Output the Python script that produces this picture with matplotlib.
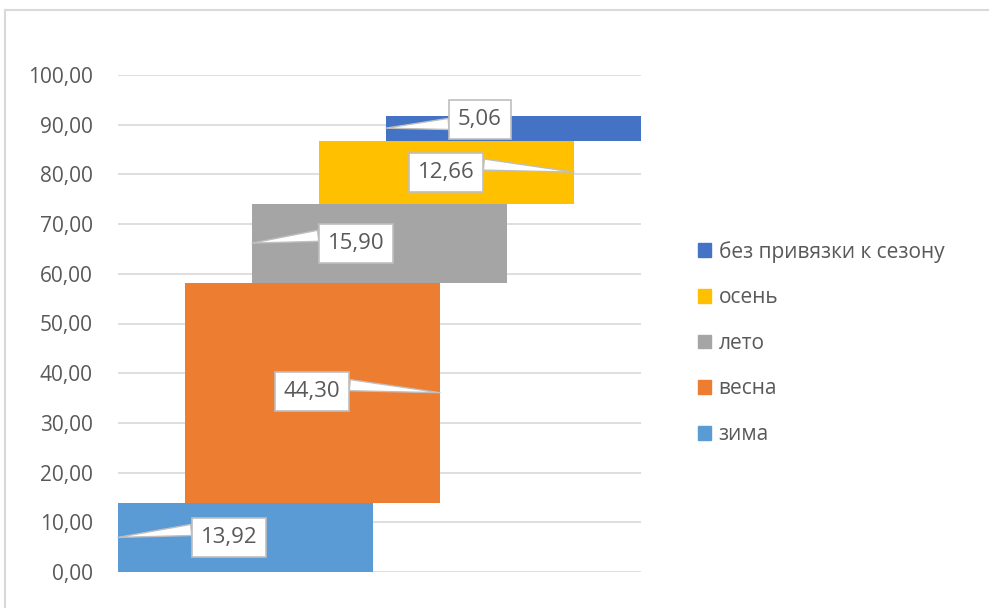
import matplotlib
matplotlib.use("Agg")
import matplotlib.pyplot as plt
import numpy as np
from matplotlib.patches import Rectangle
from matplotlib.ticker import FuncFormatter, MultipleLocator

plt.rcParams["font.family"] = ["Open Sans", "DejaVu Sans"]

seasons = ["зима", "весна", "лето", "осень", "без привязки к сезону"]
values = [13.92, 44.30, 15.90, 12.66, 5.06]
colors = ["#5B9BD5", "#ED7D31", "#A5A5A5", "#FFC000", "#4472C4"]

TEXT = "#595959"
GRID = "#D9D9D9"

fig = plt.figure(figsize=(9.89, 6.08), dpi=100)
ax = fig.add_axes([118 / 989, 1 - 572 / 608, (641 - 118) / 989, (572 - 75) / 608])

step = 67 / 255
x = np.arange(len(values)) * step
bottoms = np.concatenate([[0], np.cumsum(values)[:-1]])
bars = ax.bar(x, values, bottom=bottoms, width=1.0, color=colors, linewidth=0)

ax.set_xlim(-0.5, x[-1] + 0.5)
ax.set_ylim(0, 100)
ax.yaxis.set_major_locator(MultipleLocator(10))
ax.yaxis.set_major_formatter(FuncFormatter(lambda v, _: f"{v:.2f}".replace(".", ",")))
ax.grid(axis="y", color=GRID, lw=1.2)
ax.set_axisbelow(True)
ax.set_xticks([])
for s in ax.spines.values():
    s.set_visible(False)
ax.tick_params(axis="y", length=0, pad=18, labelsize=15, labelcolor=TEXT)

# callout labels: (side of bar, pixel offset of box, anchor on box)
label_side = ["left", "right", "left", "right", "left"]
label_off = [(111, 0), (-128, 1), (104, 0), (-128, 0), (94, 9)]
label_rel = [(0, 0.9), (1, 0.85), (0, 0.9), (1, 0.9), (0, 0.3)]
for b, v, side, off, rel in zip(bars, values, label_side, label_off, label_rel):
    bx = b.get_x() if side == "left" else b.get_x() + b.get_width()
    by = b.get_y() + b.get_height() / 2
    ax.annotate(f"{v:.2f}".replace(".", ","), xy=(bx, by), xytext=off,
                textcoords="offset pixels", ha="center", va="center",
                fontsize=16, color=TEXT,
                bbox=dict(boxstyle="square,pad=0.4", fc="white", ec="#BFBFBF", lw=1.2),
                arrowprops=dict(arrowstyle="wedge,tail_width=0.5,shrink_factor=0.5",
                                fc="white", ec="#BFBFBF", lw=1, relpos=rel,
                                shrinkA=0, shrinkB=0))

handles = [Rectangle((0, 0), 1, 1, color=c) for c in colors][::-1]
leg = fig.legend(handles, seasons[::-1], loc="upper left",
                 bbox_to_anchor=(679 / 989, 1 - 222 / 608), frameon=False,
                 fontsize=15, labelcolor=TEXT, handlelength=0.65, handleheight=0.65,
                 handletextpad=0.35, labelspacing=1.18)

fig.add_artist(Rectangle((5 / 989, -0.1), 1.2, 1 - 10 / 608 + 0.1,
                         transform=fig.transFigure, fill=False, ec=GRID, lw=1.5))

fig.savefig("out.png", dpi=100)
